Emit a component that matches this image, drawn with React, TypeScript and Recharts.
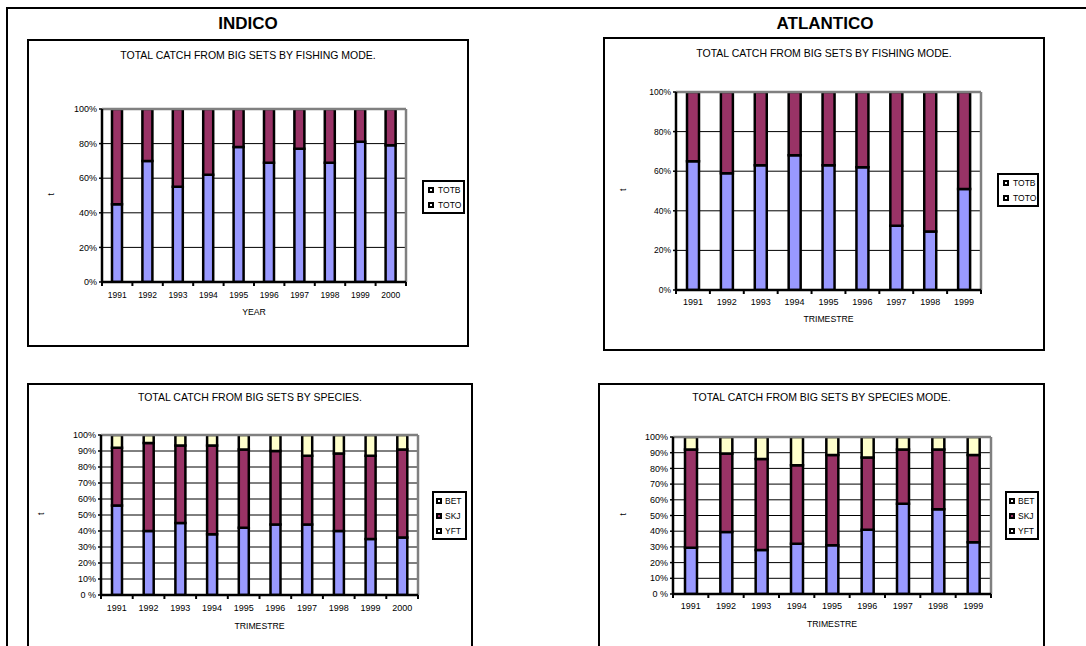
import React from 'react';
import { BarChart, Bar, XAxis, YAxis, CartesianGrid, ReferenceLine, Legend } from 'recharts';

const FONT = '"Liberation Sans", Arial, Helvetica, sans-serif';

// ---- Indian Ocean: share of big-set catch by fishing mode (%) ----
const indicoModeYears = ['1991', '1992', '1993', '1994', '1995', '1996', '1997', '1998', '1999', '2000'];
const indicoTotb = [45, 70, 55, 62, 78, 69, 77, 69, 81, 79];
const indicoToto = [55, 30, 45, 38, 22, 31, 23, 31, 19, 21];

// ---- Atlantic: share of big-set catch by fishing mode (%) ----
const atlanticoModeYears = ['1991', '1992', '1993', '1994', '1995', '1996', '1997', '1998', '1999'];
const atlanticoTotb = [65, 59, 63, 68, 63, 62, 32.5, 29.5, 51];
const atlanticoToto = [35, 41, 37, 32, 37, 38, 67.5, 70.5, 49];

// ---- Indian Ocean: share of big-set catch by species (%) ----
const indicoSpeciesYears = ['1991', '1992', '1993', '1994', '1995', '1996', '1997', '1998', '1999', '2000'];
const indicoYft = [56, 40, 45, 38, 42, 44, 44, 40, 35, 36];
const indicoSkj = [36, 55, 48.5, 55.5, 49, 46, 43, 48.5, 52, 55];
const indicoBet = [8, 5, 6.5, 6.5, 9, 10, 13, 11.5, 13, 9];

// ---- Atlantic: share of big-set catch by species (%) ----
const atlanticoSpeciesYears = ['1991', '1992', '1993', '1994', '1995', '1996', '1997', '1998', '1999'];
const atlanticoYft = [29.5, 39.5, 28, 32, 31, 41, 57.5, 54, 33];
const atlanticoSkj = [62.5, 50, 58, 50, 57.5, 46, 34.5, 38, 55.5];
const atlanticoBet = [8, 10.5, 14, 18, 11.5, 13, 8, 8, 11.5];

// ---- value-axis ticks ----
const modeTicks = [0, 20, 40, 60, 80, 100];
const modeTickLabels = ['0%', '20%', '40%', '60%', '80%', '100%'];
const speciesTicks = [0, 10, 20, 30, 40, 50, 60, 70, 80, 90, 100];
const speciesTickLabels = ['0 %', '10%', '20%', '30%', '40%', '50%', '60%', '70%', '80%', '90%', '100%'];

const BLUE = '#9999FF';
const PLUM = '#993366';
const CREAM = '#FFFFCC';

type SeriesDef = { key: string; color: string; markerFill: string };

const modeSeries: SeriesDef[] = [
  { key: 'TOTB', color: BLUE, markerFill: '#ffffff' },
  { key: 'TOTO', color: PLUM, markerFill: '#ffffff' },
];
const modeLegendOrder = ['TOTB', 'TOTO'];

const speciesSeries: SeriesDef[] = [
  { key: 'YFT', color: BLUE, markerFill: '#ffffff' },
  { key: 'SKJ', color: PLUM, markerFill: PLUM },
  { key: 'BET', color: CREAM, markerFill: '#ffffff' },
];
const speciesLegendOrder = ['BET', 'SKJ', 'YFT'];

const indicoModeRows = indicoModeYears.map((year, i) => ({ year, TOTB: indicoTotb[i], TOTO: indicoToto[i] }));
const atlanticoModeRows = atlanticoModeYears.map((year, i) => ({ year, TOTB: atlanticoTotb[i], TOTO: atlanticoToto[i] }));
const indicoSpeciesRows = indicoSpeciesYears.map((year, i) => ({
  year,
  YFT: indicoYft[i],
  SKJ: indicoSkj[i],
  BET: indicoBet[i],
}));
const atlanticoSpeciesRows = atlanticoSpeciesYears.map((year, i) => ({
  year,
  YFT: atlanticoYft[i],
  SKJ: atlanticoSkj[i],
  BET: atlanticoBet[i],
}));

const XAXIS_H = 44;

type LegendBox = { x: number; y: number; w: number; h: number; padLeft: number; textGap: number; row: number };

type PanelProps = {
  left: number;
  top: number;
  width: number;
  height: number;
  title: string;
  titleY: number;
  rows: any[];
  series: SeriesDef[];
  legendOrder: string[];
  yTicks: number[];
  yLabels: string[];
  xTitle: string;
  plot: { left: number; top: number; right: number; bottom: number };
  barSize: number;
  tickFont: number;
  xTickFont: number;
  xLabelDy: number;
  xTitleDy: number;
  legend: LegendBox;
  tX: number;
};

// Category labels centred on each band, with tick marks on the band boundaries
const makeXTick = (count: number, fallbackHalf: number, fontSize: number, labelDy: number) => (props: any) => {
  const { x, y, payload, index } = props;
  const half = payload && typeof payload.offset === 'number' && payload.offset > 0 ? payload.offset : fallbackHalf;
  return (
    <g>
      <line x1={x - half} x2={x - half} y1={y} y2={y + 4} stroke="#000" strokeWidth={2} />
      {index === count - 1 ? <line x1={x + half} x2={x + half} y1={y} y2={y + 4} stroke="#000" strokeWidth={2} /> : null}
      <text
        x={x}
        y={y + labelDy}
        textAnchor="middle"
        dominantBaseline="central"
        fontSize={fontSize}
        fontFamily={FONT}
        fill="#000"
      >
        {payload.value}
      </text>
    </g>
  );
};

const makeLegend = (series: SeriesDef[], order: string[], box: LegendBox) => (props: any) => {
  const payload: any[] = props.payload || [];
  const items = order.map((key) => {
    const entry = payload.find((p) => p.dataKey === key || p.value === key);
    const def = series.find((s) => s.key === key)!;
    return { key, label: entry ? entry.value : key, fill: def.markerFill };
  });
  return (
    <div
      style={{
        boxSizing: 'border-box',
        width: box.w,
        height: box.h,
        border: '2px solid #000',
        background: '#fff',
        fontFamily: FONT,
        fontSize: 8.5,
        color: '#000',
        display: 'flex',
        flexDirection: 'column',
        justifyContent: 'center',
      }}
    >
      {items.map((it) => (
        <div
          key={it.key}
          style={{ height: box.row, display: 'flex', alignItems: 'center', paddingLeft: box.padLeft }}
        >
          <span
            style={{
              boxSizing: 'border-box',
              width: 6,
              height: 6,
              border: '2px solid #000',
              background: it.fill,
              marginRight: box.textGap,
              flex: 'none',
            }}
          />
          <span style={{ whiteSpace: 'nowrap', lineHeight: '10px' }}>{it.label}</span>
        </div>
      ))}
    </div>
  );
};

function Panel(p: PanelProps) {
  const n = p.rows.length;
  const half = (p.plot.right - p.plot.left) / n / 2;
  const lastYear = p.rows[n - 1].year;
  return (
    <div style={{ position: 'absolute', left: p.left, top: p.top, width: p.width, height: p.height }}>
      <div
        style={{
          position: 'absolute',
          left: 0,
          top: p.titleY - 7,
          width: p.width,
          lineHeight: '14px',
          textAlign: 'center',
          fontFamily: FONT,
          fontSize: 10.5,
          color: '#000',
          whiteSpace: 'nowrap',
        }}
      >
        {p.title}
      </div>
      <div style={{ position: 'absolute', left: 0, top: 0 }}>
        <BarChart
          width={p.width}
          height={p.height}
          data={p.rows}
          barSize={p.barSize}
          margin={{
            top: p.plot.top,
            left: 0,
            right: p.width - p.plot.right,
            bottom: p.height - p.plot.bottom - XAXIS_H,
          }}
        >
          <CartesianGrid vertical={false} stroke="#000" strokeWidth={1} />
          <XAxis
            dataKey="year"
            type="category"
            height={XAXIS_H}
            interval={0}
            axisLine={{ stroke: '#000', strokeWidth: 2.5 }}
            tickLine={false}
            tickSize={0}
            tickMargin={0}
            tick={makeXTick(n, half, p.xTickFont, p.xLabelDy)}
            label={{
              value: p.xTitle,
              position: 'insideTop',
              offset: p.xTitleDy - 3.1,
              fontSize: 8.7,
              fontFamily: FONT,
              fill: '#000',
            }}
          />
          <YAxis
            type="number"
            domain={[0, 100]}
            ticks={p.yTicks}
            interval={0}
            allowDataOverflow
            width={p.plot.left}
            axisLine={{ stroke: '#000', strokeWidth: 2.5 }}
            tickLine={{ stroke: '#000', strokeWidth: 1.5 }}
            tickSize={3}
            tickMargin={2}
            tickFormatter={(v: number) => p.yLabels[p.yTicks.indexOf(v)] ?? String(v)}
            tick={{ fontSize: p.tickFont, fontFamily: FONT, fill: '#000' }}
            label={{
              value: 't',
              angle: -90,
              position: 'insideLeft',
              offset: p.tX,
              fontSize: 8.5,
              fontFamily: FONT,
              fill: '#000',
            }}
          />
          <ReferenceLine y={100} stroke="#808080" strokeWidth={2.5} />
          <ReferenceLine x={lastYear} position="end" stroke="#808080" strokeWidth={2.5} />
          {p.series.map((s) => (
            <Bar
              key={s.key}
              dataKey={s.key}
              name={s.key}
              stackId="share"
              fill={s.color}
              stroke="#000"
              strokeWidth={2.5}
              isAnimationActive={false}
            />
          ))}
          <Legend
            layout="vertical"
            align="center"
            verticalAlign="middle"
            wrapperStyle={{ left: p.legend.x, top: p.legend.y, width: p.legend.w, height: p.legend.h }}
            content={makeLegend(p.series, p.legendOrder, p.legend)}
          />
        </BarChart>
      </div>
      <div
        style={{
          position: 'absolute',
          left: 0,
          top: 0,
          width: p.width,
          height: p.height,
          boxSizing: 'border-box',
          border: '2px solid #000',
          pointerEvents: 'none',
        }}
      />
    </div>
  );
}

const headingStyle = (cx: number): React.CSSProperties => ({
  position: 'absolute',
  left: cx - 100,
  top: 14,
  width: 200,
  lineHeight: '20px',
  textAlign: 'center',
  fontFamily: FONT,
  fontWeight: 'bold',
  fontSize: 17,
  color: '#000',
});

export default function App() {
  return (
    <div
      style={{
        position: 'absolute',
        left: 0,
        top: 0,
        width: 1086,
        height: 646,
        overflow: 'hidden',
        background: '#fff',
      }}
    >
      <div
        style={{
          position: 'absolute',
          left: 6,
          top: 7,
          width: 1200,
          height: 800,
          borderLeft: '2px solid #000',
          borderTop: '2px solid #000',
        }}
      />
      <div style={headingStyle(248)}>INDICO</div>
      <div style={headingStyle(825)}>ATLANTICO</div>

      <Panel
        left={27}
        top={39}
        width={442}
        height={308}
        title="TOTAL CATCH FROM BIG SETS BY FISHING MODE."
        titleY={16}
        rows={indicoModeRows}
        series={modeSeries}
        legendOrder={modeLegendOrder}
        yTicks={modeTicks}
        yLabels={modeTickLabels}
        xTitle="YEAR"
        plot={{ left: 75, top: 70, right: 379, bottom: 243 }}
        barSize={10}
        tickFont={9}
        xTickFont={8.5}
        xLabelDy={13}
        xTitleDy={30}
        legend={{ x: 395, y: 141, w: 43, h: 34, padLeft: 4, textGap: 4, row: 15 }}
        tX={24}
      />
      <Panel
        left={603}
        top={37}
        width={442}
        height={314}
        title="TOTAL CATCH FROM BIG SETS BY FISHING MODE."
        titleY={16}
        rows={atlanticoModeRows}
        series={modeSeries}
        legendOrder={modeLegendOrder}
        yTicks={modeTicks}
        yLabels={modeTickLabels}
        xTitle="TRIMESTRE"
        plot={{ left: 73, top: 55, right: 378, bottom: 253 }}
        barSize={12}
        tickFont={8.5}
        xTickFont={9}
        xLabelDy={12}
        xTitleDy={29}
        legend={{ x: 394, y: 136, w: 42, h: 34, padLeft: 4, textGap: 4, row: 15 }}
        tX={20}
      />
      <Panel
        left={27}
        top={383}
        width={446}
        height={300}
        title="TOTAL CATCH FROM BIG SETS BY SPECIES."
        titleY={14}
        rows={indicoSpeciesRows}
        series={speciesSeries}
        legendOrder={speciesLegendOrder}
        yTicks={speciesTicks}
        yLabels={speciesTickLabels}
        xTitle="TRIMESTRE"
        plot={{ left: 74, top: 52, right: 391, bottom: 212 }}
        barSize={10}
        tickFont={9}
        xTickFont={9}
        xLabelDy={13}
        xTitleDy={31}
        legend={{ x: 405, y: 108, w: 35, h: 49, padLeft: 2, textGap: 3, row: 15 }}
        tX={14}
      />
      <Panel
        left={598}
        top={383}
        width={447}
        height={300}
        title="TOTAL CATCH FROM BIG SETS BY SPECIES MODE."
        titleY={14}
        rows={atlanticoSpeciesRows}
        series={speciesSeries}
        legendOrder={speciesLegendOrder}
        yTicks={speciesTicks}
        yLabels={speciesTickLabels}
        xTitle="TRIMESTRE"
        plot={{ left: 75, top: 54, right: 393, bottom: 211 }}
        barSize={12}
        tickFont={9}
        xTickFont={9}
        xLabelDy={12}
        xTitleDy={30}
        legend={{ x: 407, y: 108, w: 34, h: 49, padLeft: 2, textGap: 3, row: 15 }}
        tX={25}
      />
    </div>
  );
}
